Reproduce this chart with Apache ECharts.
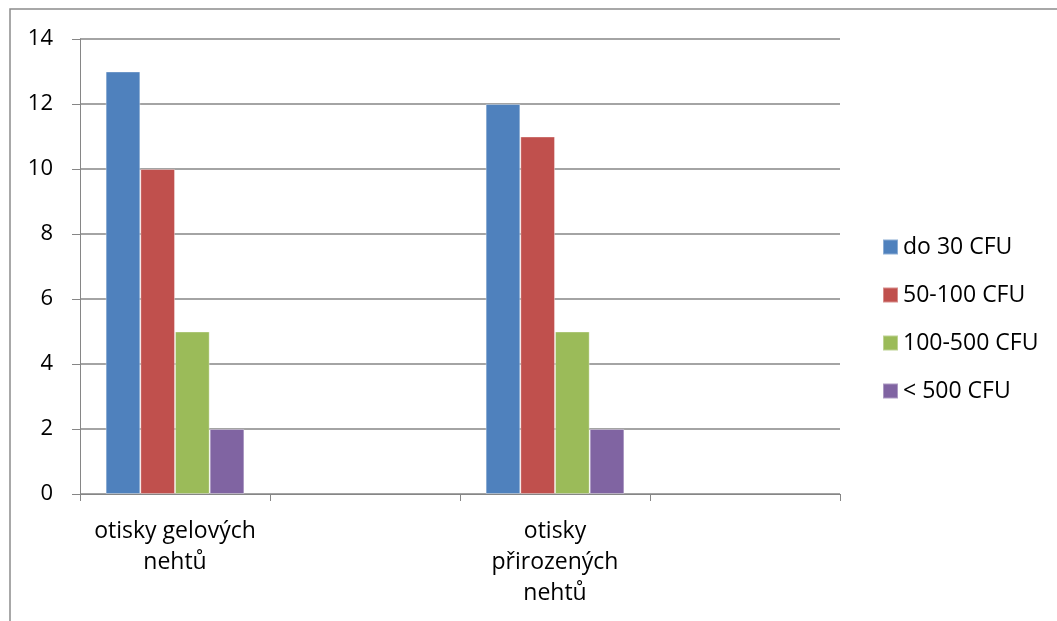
<!DOCTYPE html>
<html>
<head>
<meta charset="utf-8">
<script src="https://cdn.jsdelivr.net/npm/echarts@6/dist/echarts.min.js"></script>
<style>
  html, body { margin: 0; padding: 0; background: #fff; }
  #chart { width: 1057px; height: 621px; }
</style>
</head>
<body>
<div id="chart"></div>
<script>
// Categories (two empty slots sit between / after the two specimen groups)
const categories = ['otisky gelových\nnehtů', '', 'otisky\npřirozených\nnehtů', ''];

// Counts per CFU range
const do30 = [13, null, 12, null];
const cfu50to100 = [10, null, 11, null];
const cfu100to500 = [5, null, 5, null];
const over500 = [2, null, 2, null];

const seriesNames = ['do 30 CFU', '50-100 CFU', '100-500 CFU', '< 500 CFU'];
const seriesValues = [do30, cfu50to100, cfu100to500, over500];
const colors = ['#4F81BD', '#C0504D', '#9BBB59', '#8064A2'];

const yTicks = [0, 2, 4, 6, 8, 10, 12, 14];

const FONT = 'Open Sans, Noto Sans, sans-serif';
const FS = 22;
const FS_TEXT = 23;
const GRAY = '#868686';

const chart = echarts.init(document.getElementById('chart'), null, { renderer: 'canvas' });

chart.setOption({
  animation: false,
  backgroundColor: '#fff',
  color: colors,
  grid: { left: 80, right: 217, top: 39, bottom: 127, containLabel: false },
  legend: {
    orient: 'vertical',
    left: 882,
    top: 235,
    padding: 0,
    icon: 'rect',
    itemWidth: 15,
    itemHeight: 15,
    itemGap: 24,
    textStyle: { fontFamily: FONT, fontSize: FS_TEXT, color: '#000', lineHeight: 24 },
    data: seriesNames
  },
  xAxis: {
    type: 'category',
    data: categories,
    boundaryGap: true,
    axisLine: { lineStyle: { color: GRAY, width: 1 } },
    axisTick: { show: true, length: 7, inside: false, alignWithLabel: false, interval: 0, lineStyle: { color: GRAY } },
    axisLabel: {
      interval: 0,
      margin: 22,
      fontFamily: FONT,
      fontSize: FS_TEXT,
      lineHeight: 31,
      color: '#000',
      align: 'center'
    },
    splitLine: { show: false }
  },
  yAxis: {
    type: 'value',
    min: yTicks[0],
    max: yTicks[yTicks.length - 1],
    interval: 2,
    axisLine: { show: true, lineStyle: { color: GRAY, width: 1 } },
    axisTick: { show: true, length: 8, lineStyle: { color: GRAY } },
    axisLabel: { margin: 27, fontFamily: FONT, fontSize: FS, color: '#000' },
    splitLine: { show: true, lineStyle: { color: GRAY, width: 1.5 } }
  },
  series: seriesNames.map((name, i) => ({
    name,
    type: 'bar',
    data: seriesValues[i],
    barGap: '0%',
    barCategoryGap: '27%',
    itemStyle: { color: colors[i], borderColor: 'rgba(255,255,255,0.35)', borderWidth: 1 }
  })),
  graphic: [
    {
      type: 'polyline',
      silent: true,
      shape: { points: [[10, 621], [10, 9], [1057, 9]] },
      style: { stroke: '#8c8c8c', lineWidth: 1.5, fill: null }
    }
  ]
});
</script>
</body>
</html>
